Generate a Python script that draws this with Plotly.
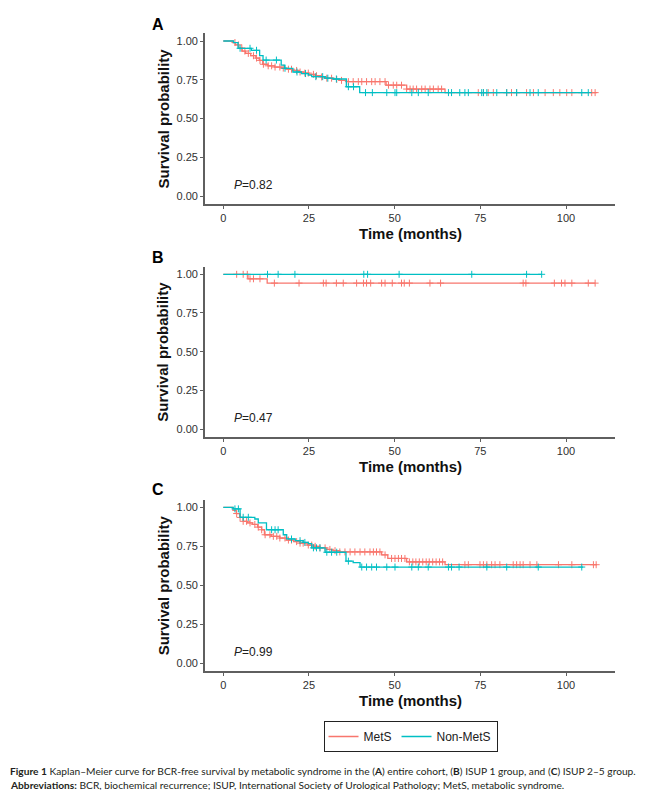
import numpy as np
import plotly.graph_objects as go

# page body has an 8px margin; figure sized to fit the 651x798 window
OFF = 8
W, H = 651 - 2 * OFF, 798 - 2 * OFF
RED = "#F8766D"
TEAL = "#00BFC4"

# ---------------- data (months, survival) ----------------
# Panel A: entire cohort
A_mets_t = [0, 2.8, 3.5, 4.5, 5.5, 6.5, 8.0, 9.5, 10.5, 11.5, 13.0, 15.0, 17.0, 18.5, 20.0, 22.0,
            23.5, 25.0, 27.0, 28.5, 30.0, 32.0, 34.0, 36.0, 47.5, 53.5, 64.7]
A_mets_s = [1.0, 0.99, 0.975, 0.955, 0.935, 0.92, 0.905, 0.89, 0.875, 0.85, 0.84, 0.832, 0.825, 0.818,
            0.81, 0.80, 0.793, 0.785, 0.776, 0.768, 0.76, 0.752, 0.746, 0.738, 0.715, 0.69, 0.667]
A_mets_end = 109.0
A_mets_cens = [3.4, 4.4, 5.4, 6.3, 7.3, 8.8, 9.7, 10.7, 11.7, 13.1, 14.1, 15.1, 16.5, 17.5, 19.0, 19.9,
               21.4, 22.4, 23.8, 24.8, 26.3, 27.2, 28.7, 30.2, 31.6, 33.1, 34.5, 36.5, 37.9, 39.4, 40.4,
               41.8, 43.3, 44.3, 45.7, 47.2, 48.2, 49.6, 50.6, 52.0, 53.5, 54.5, 55.4, 56.4, 57.9, 58.9,
               60.3, 61.3, 62.7, 63.7, 74.4, 75.9, 77.3, 78.8, 82.7, 84.1, 85.6, 88.5, 90.5, 93.9, 96.3,
               98.2, 100.2, 101.7, 107.5, 108.5]
A_non_t = [0, 3.0, 4.3, 8.2, 10.6, 11.6, 16.9, 17.9, 20.3, 22.8, 24.8, 25.8, 29.6, 32.0, 35.9, 39.8]
A_non_s = [1.0, 0.99, 0.953, 0.94, 0.905, 0.877, 0.845, 0.824, 0.80, 0.79, 0.78, 0.77, 0.76, 0.755,
           0.705, 0.667]
A_non_end = 106.5
A_non_cens = [4.9, 7.8, 9.7, 12.5, 15.5, 18.0, 21.5, 24.0, 27.0, 29.0, 30.5, 33.0, 36.5, 38.0, 41.5,
              43.5, 47.7, 50.1, 50.6, 55.0, 56.9, 59.8, 65.7, 66.6, 69.0, 70.5, 71.5, 75.4, 75.9, 76.9,
              79.8, 82.7, 85.6, 89.5, 91.9, 104.6, 106.5]

# Panel B: ISUP 1 group
B_mets_t = [0, 7.2, 12.8]
B_mets_s = [1.0, 0.971, 0.943]
B_mets_end = 108.5
B_mets_cens = [3.9, 5.8, 7.0, 7.8, 8.8, 10.7, 14.9, 22.1, 29.2, 30.0, 33.0, 35.0, 38.9, 40.9, 41.8,
               43.0, 46.2, 47.2, 49.3, 52.0, 52.8, 54.3, 60.3, 63.4, 87.5, 88.3, 96.6, 98.7, 99.7,
               101.7, 106.5, 108.5]
B_non_t = [0]
B_non_s = [1.0]
B_non_end = 92.9
B_non_cens = [12.9, 16.0, 20.9, 41.0, 42.1, 51.3, 72.5, 88.5, 92.9]

# Panel C: ISUP 2-5 group
C_mets_t = [0, 2.8, 3.8, 4.8, 5.8, 7.0, 8.5, 10.0, 11.2, 12.0, 14.0, 16.5, 18.5, 20.5, 22.4, 24.5,
            26.3, 28.2, 30.2, 32.0, 34.0, 46.2, 48.0, 53.5, 64.7]
C_mets_s = [1.0, 0.98, 0.96, 0.935, 0.91, 0.90, 0.89, 0.873, 0.856, 0.824, 0.814, 0.803, 0.79, 0.78,
            0.77, 0.758, 0.75, 0.74, 0.73, 0.722, 0.714, 0.695, 0.672, 0.65, 0.632]
C_mets_end = 109.0
C_mets_cens = [3.9, 4.9, 5.8, 6.8, 7.8, 9.2, 10.2, 11.2, 12.2, 13.6, 14.6, 15.6, 16.5, 18.0, 19.0,
               19.9, 21.4, 22.4, 23.3, 24.8, 25.8, 26.8, 28.2, 29.7, 31.1, 32.6, 34.0, 35.5, 37.0,
               38.4, 39.9, 41.3, 42.8, 43.8, 44.7, 45.7, 47.2, 49.1, 50.1, 51.1, 52.0, 53.0, 54.3,
               55.3, 56.2, 57.2, 58.2, 59.2, 60.1, 61.1, 62.1, 63.1, 64.0, 70.5, 71.5, 74.9, 75.9,
               76.9, 78.3, 79.3, 80.7, 84.6, 85.6, 86.6, 87.5, 89.5, 91.5, 97.8, 101.7, 108.0, 108.8]
C_non_t = [0, 2.9, 4.9, 9.2, 10.2, 12.6, 17.5, 18.5, 21.0, 23.3, 24.8, 25.8, 29.7, 35.8, 37.9, 39.9]
C_non_s = [1.0, 0.99, 0.936, 0.925, 0.90, 0.856, 0.824, 0.797, 0.786, 0.775, 0.767, 0.74, 0.712,
           0.655, 0.645, 0.617]
C_non_end = 105.0
C_non_cens = [3.4, 4.4, 5.8, 7.3, 14.1, 15.1, 16.0, 19.9, 22.4, 23.8, 26.3, 27.2, 28.2, 30.2, 31.6,
              33.1, 36.5, 40.4, 41.8, 43.3, 44.7, 47.7, 50.1, 55.0, 56.9, 59.8, 65.7, 66.6, 68.8,
              76.9, 82.7, 91.9, 104.6]

p_values = ["0.82", "0.47", "0.99"]
panel_letters = ["A", "B", "C"]
series_names = ["MetS", "Non-MetS"]
x_ticks = [0, 25, 50, 75, 100]
y_ticks = [0, 0.25, 0.5, 0.75, 1.0]
y_ticklabels = ["0.00", "0.25", "0.50", "0.75", "1.00"]

panels = [
    ((A_mets_t, A_mets_s, A_mets_end, A_mets_cens), (A_non_t, A_non_s, A_non_end, A_non_cens)),
    ((B_mets_t, B_mets_s, B_mets_end, B_mets_cens), (B_non_t, B_non_s, B_non_end, B_non_cens)),
    ((C_mets_t, C_mets_s, C_mets_end, C_mets_cens), (C_non_t, C_non_s, C_non_end, C_non_cens)),
]


def xp(px):
    return (px - OFF) / W


def yp(py):
    return 1 - (py - OFF) / H


# ---------------- layout geometry (window pixels) ----------------
X_LEFT, X_RIGHT = 205, 615
panel_px = [(41.0, 196.0), (274.3, 429.0), (507.3, 663.3)]   # px of y=1 and y=0
letter_y = [24, 257, 490]

fig = go.Figure()
colors = [RED, TEAL]


def step_value(ts, ss, t):
    i = np.searchsorted(np.array(ts), t, side="right") - 1
    return ss[max(i, 0)]


for pi, pdata in enumerate(panels):
    ax = "" if pi == 0 else str(pi + 1)
    for si, (ts, ss, tend, cens) in enumerate(pdata):
        xs = list(ts) + [tend]
        ys = list(ss) + [ss[-1]]
        fig.add_trace(go.Scatter(
            x=xs, y=ys, mode="lines", line=dict(color=colors[si], width=1.3, shape="hv"),
            name=series_names[si], showlegend=(pi == 0), legendgroup=series_names[si],
            xaxis="x" + ax, yaxis="y" + ax, hoverinfo="skip"))
        cy = [step_value(ts, ss, c) for c in cens]
        fig.add_trace(go.Scatter(
            x=cens, y=cy, mode="markers",
            marker=dict(symbol="cross-thin", size=5, line=dict(color=colors[si], width=1)),
            showlegend=False, legendgroup=series_names[si],
            xaxis="x" + ax, yaxis="y" + ax, hoverinfo="skip"))

layout = dict(
    width=W, height=H, margin=dict(l=0, r=0, t=0, b=0),
    paper_bgcolor="white", plot_bgcolor="white",
    font=dict(family="Liberation Sans, Arial", color="#303030"),
    showlegend=True,
    legend=dict(orientation="h", x=xp((324 + 497) / 2), y=yp(736.5), xanchor="center",
                yanchor="middle", bordercolor="#222222", borderwidth=1,
                font=dict(size=12, family="Liberation Sans, Arial", color="#202020"),
                itemwidth=30, tracegroupgap=0, bgcolor="white"),
)

AX_COLOR = "#5f5f5f"
unit_x = (566.0 - 223.3) / 100.0
xr = [(X_LEFT - 223.3) / unit_x, (X_RIGHT - 223.3) / unit_x]
annotations = []
for pi in range(3):
    ax = "" if pi == 0 else str(pi + 1)
    p1, p0 = panel_px[pi]
    unit = p0 - p1
    top = p1 - 0.05 * unit
    bot = p0 + 0.05 * unit
    layout["xaxis" + ax] = dict(
        domain=[xp(X_LEFT), xp(X_RIGHT)], range=xr, anchor="y" + ax,
        tickvals=x_ticks, ticks="outside", ticklen=3, tickwidth=1, tickcolor=AX_COLOR,
        showline=True, linecolor=AX_COLOR, linewidth=1.6, showgrid=False, zeroline=False,
        tickfont=dict(size=11, color="#303030"), fixedrange=True)
    layout["yaxis" + ax] = dict(
        domain=[yp(bot), yp(top)], range=[-0.05, 1.05], anchor="x" + ax,
        tickvals=y_ticks, ticktext=y_ticklabels, ticks="outside", ticklen=3, tickwidth=1,
        tickcolor=AX_COLOR, showline=True, linecolor=AX_COLOR, linewidth=1.6, showgrid=False,
        zeroline=False, tickfont=dict(size=11, color="#303030"), fixedrange=True)
    annotations.append(dict(text="<b>Time (months)</b>", xref="paper", yref="paper",
                            x=xp((X_LEFT + X_RIGHT) / 2), y=yp(bot + 29.5),
                            xanchor="center", yanchor="middle", showarrow=False,
                            font=dict(size=15, color="#111111")))
    annotations.append(dict(text="<b>Survival probability</b>", xref="paper", yref="paper",
                            x=xp(163), y=yp((top + bot) / 2), textangle=-90,
                            xanchor="center", yanchor="middle", showarrow=False,
                            font=dict(size=15, color="#111111")))
    annotations.append(dict(text="<b>" + panel_letters[pi] + "</b>", xref="paper", yref="paper",
                            x=xp(158), y=yp(letter_y[pi]), xanchor="center", yanchor="middle",
                            showarrow=False, font=dict(size=16, color="#000000")))
    annotations.append(dict(text="<i>P</i>=" + p_values[pi], xref="x" + ax, yref="y" + ax,
                            x=2.6, y=0.07, xanchor="left", yanchor="middle", showarrow=False,
                            font=dict(size=12, color="#202020")))

cap_font = dict(size=10.2, family="Lato, Open Sans", color="#231f20")
annotations.append(dict(
    text="<b>Figure 1</b> Kaplan–Meier curve for BCR-free survival by metabolic syndrome in the "
         "(<b>A</b>) entire cohort, (<b>B</b>) ISUP 1 group, and (<b>C</b>) ISUP 2–5 group.",
    xref="paper", yref="paper", x=xp(8), y=yp(771), xanchor="left", yanchor="middle",
    showarrow=False, font=cap_font))
annotations.append(dict(
    text="<b>Abbreviations:</b> BCR, biochemical recurrence; ISUP, International Society of "
         "Urological Pathology; MetS, metabolic syndrome.",
    xref="paper", yref="paper", x=xp(8), y=yp(785), xanchor="left", yanchor="middle",
    showarrow=False, font=cap_font))
layout["annotations"] = annotations

fig.update_layout(**layout)
fig.write_html("out.html")
